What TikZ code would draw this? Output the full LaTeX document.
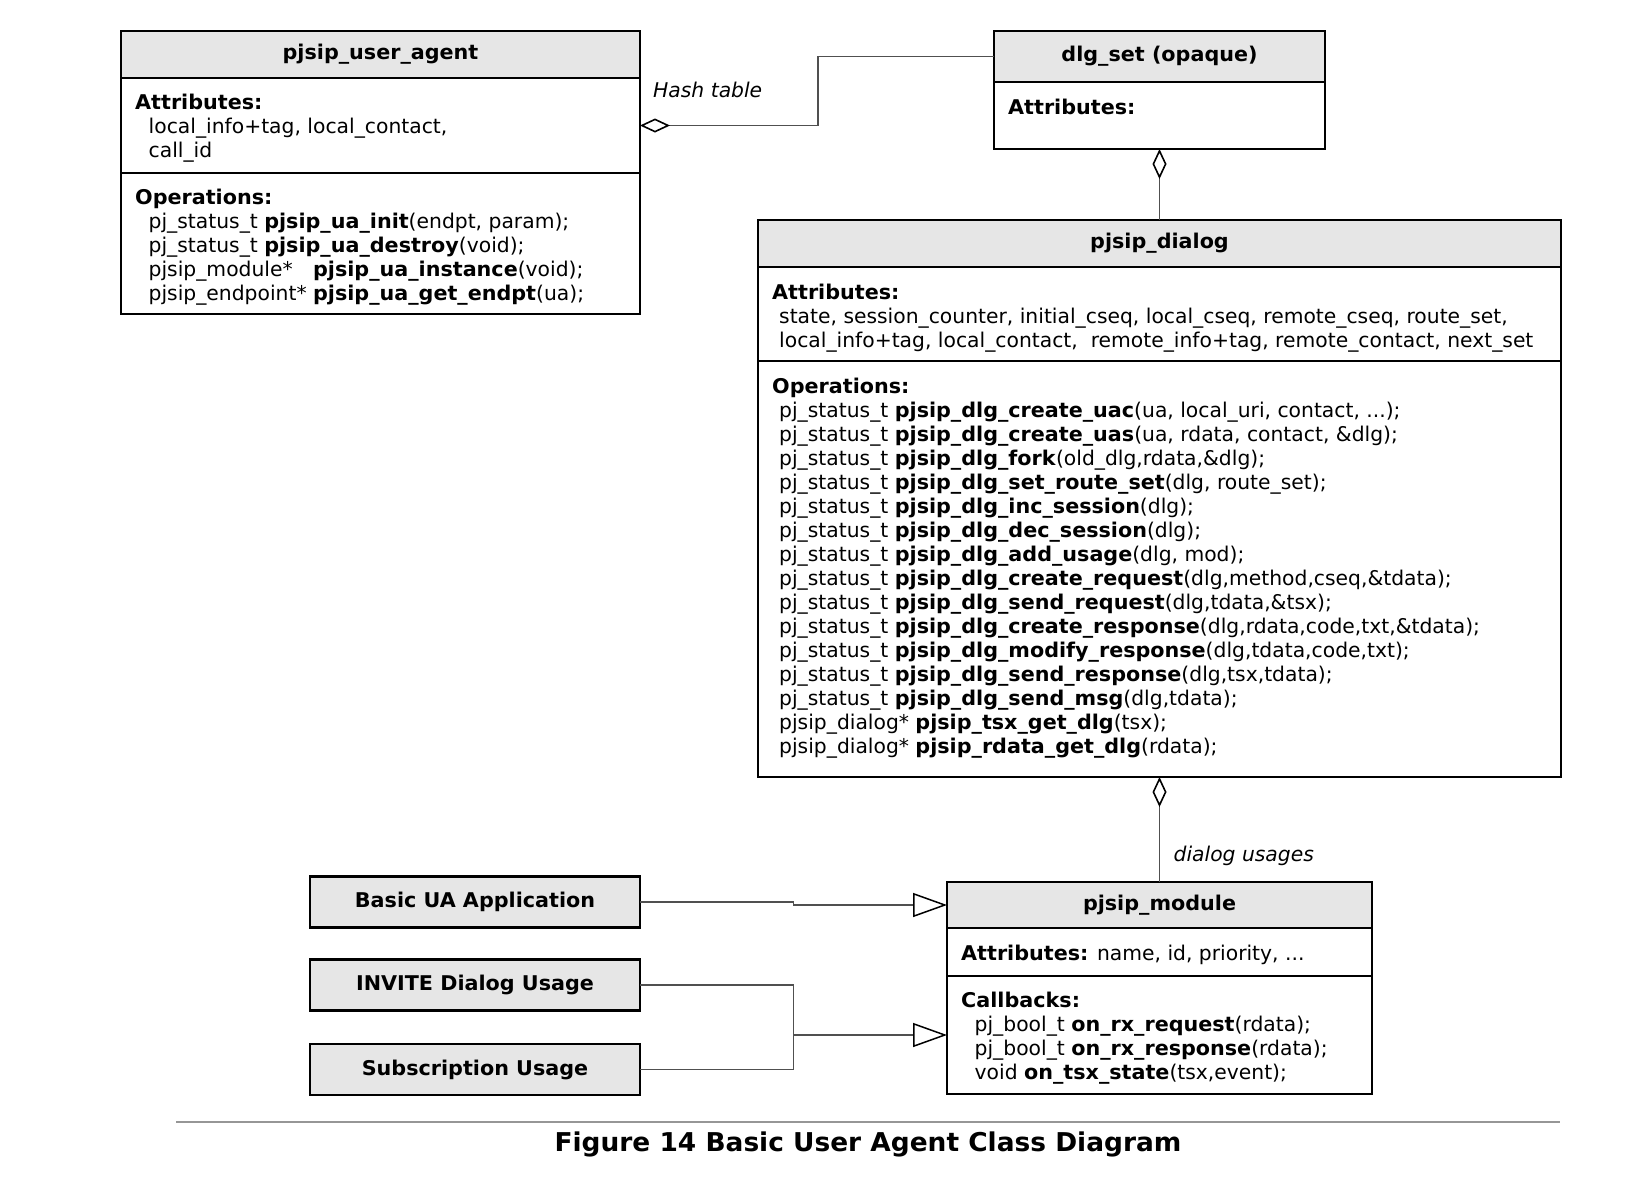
\documentclass[tikz,border=0pt]{standalone}
\usepackage{fontspec}
\setmainfont[BoldFeatures={FakeStretch=1.02}]{DejaVu Sans}
\usetikzlibrary{arrows.meta}
\definecolor{hdrgray}{RGB}{230,230,230}
\definecolor{linegray}{RGB}{80,80,80}
\definecolor{rulegray}{RGB}{150,150,150}
\newcommand{\bodyfont}{\fontsize{20.3}{24}\selectfont}
\newcommand{\ind}{\hspace*{13.5pt}}
\newcommand{\indd}{\hspace*{7pt}}
\tikzset{
  comp/.style={draw=black, line width=2.2pt, anchor=north west, inner sep=0pt, outer sep=0pt, fill=white},
  hdr/.style={comp, fill=hdrgray, font=\bodyfont\bfseries},
  txt/.style={anchor=north west, inner sep=0pt, align=left, font=\bodyfont},
  lbl/.style={inner sep=0pt, font=\bodyfont\itshape},
  conn/.style={draw=linegray, line width=1.3pt},
  agg/.style={conn, {Diamond[open, length=30pt, width=14pt, line width=1.6pt, color=black]}-},
  gen/.style={conn, -{Triangle[open, length=34pt, width=24pt, line width=1.5pt, color=black]}}
}
\begin{document}
\begin{tikzpicture}[x=1pt,y=-1pt]
\useasboundingbox (0,0) rectangle (1642,1184);
% pjsip_user_agent
\node[hdr, minimum width=519pt, minimum height=47pt] (uah) at (121,31) {pjsip\_user\_agent};
\node[comp, minimum width=519pt, minimum height=95pt] (uaa) at (121,78) {};
\node[comp, minimum width=519pt, minimum height=141pt] (uao) at (121,173) {};
\node[txt] (uaat) at (135,94) {\textbf{Attributes:}\\ \ind local\_info+tag, local\_contact,\\ \ind call\_id};
\node[txt] (uaot) at (135,189) {\textbf{Operations:}\\
\ind pj\_status\_t \textbf{pjsip\_ua\_init}(endpt, param);\\
\ind pj\_status\_t \textbf{pjsip\_ua\_destroy}(void);\\
\ind \rlap{pjsip\_module*}\phantom{pjsip\_endpoint* }\textbf{pjsip\_ua\_instance}(void);\\
\ind pjsip\_endpoint* \textbf{pjsip\_ua\_get\_endpt}(ua);};
% dlg_set
\node[hdr, minimum width=331pt, minimum height=51pt] (dsh) at (994,31) {dlg\_set (opaque)};
\node[comp, minimum width=331pt, minimum height=67pt] (dsa) at (994,82) {};
\node[txt] (dsat) at (1008,99) {\textbf{Attributes:}};
% pjsip_dialog
\node[hdr, minimum width=803pt, minimum height=47pt] (dh) at (758,220) {pjsip\_dialog};
\node[comp, minimum width=803pt, minimum height=94pt] (da) at (758,267) {};
\node[comp, minimum width=803pt, minimum height=416pt] (dop) at (758,361) {};
\node[txt] (dat) at (772,284) {\textbf{Attributes:}\\
\indd state, session\_counter, initial\_cseq, local\_cseq, remote\_cseq, route\_set,\\
\indd local\_info+tag, local\_contact,\ \ remote\_info+tag, remote\_contact, next\_set};
\node[txt] (dot) at (772,377.5) {\textbf{Operations:}\\
\indd pj\_status\_t \textbf{pjsip\_dlg\_create\_uac}(ua, local\_uri, contact, ...);\\
\indd pj\_status\_t \textbf{pjsip\_dlg\_create\_uas}(ua, rdata, contact, \&dlg);\\
\indd pj\_status\_t \textbf{pjsip\_dlg\_fork}(old\_dlg,rdata,\&dlg);\\
\indd pj\_status\_t \textbf{pjsip\_dlg\_set\_route\_set}(dlg, route\_set);\\
\indd pj\_status\_t \textbf{pjsip\_dlg\_inc\_session}(dlg);\\
\indd pj\_status\_t \textbf{pjsip\_dlg\_dec\_session}(dlg);\\
\indd pj\_status\_t \textbf{pjsip\_dlg\_add\_usage}(dlg, mod);\\
\indd pj\_status\_t \textbf{pjsip\_dlg\_create\_request}(dlg,method,cseq,\&tdata);\\
\indd pj\_status\_t \textbf{pjsip\_dlg\_send\_request}(dlg,tdata,\&tsx);\\
\indd pj\_status\_t \textbf{pjsip\_dlg\_create\_response}(dlg,rdata,code,txt,\&tdata);\\
\indd pj\_status\_t \textbf{pjsip\_dlg\_modify\_response}(dlg,tdata,code,txt);\\
\indd pj\_status\_t \textbf{pjsip\_dlg\_send\_response}(dlg,tsx,tdata);\\
\indd pj\_status\_t \textbf{pjsip\_dlg\_send\_msg}(dlg,tdata);\\
\indd pjsip\_dialog* \textbf{pjsip\_tsx\_get\_dlg}(tsx);\\
\indd pjsip\_dialog* \textbf{pjsip\_rdata\_get\_dlg}(rdata);};
% pjsip_module
\node[hdr, minimum width=425pt, minimum height=46pt] (mh) at (947,882) {pjsip\_module};
\node[comp, minimum width=425pt, minimum height=48pt] (ma) at (947,928) {};
\node[comp, minimum width=425pt, minimum height=118pt] (mc) at (947,976) {};
\node[txt] (mat) at (961,945) {\textbf{Attributes:} name, id, priority, ...};
\node[txt] (mct) at (961,992) {\textbf{Callbacks:}\\
\ind pj\_bool\_t \textbf{on\_rx\_request}(rdata);\\
\ind pj\_bool\_t \textbf{on\_rx\_response}(rdata);\\
\ind void \textbf{on\_tsx\_state}(tsx,event);};
% left boxes
\node[hdr, minimum width=330pt, minimum height=51pt] (bua) at (310,876.5) {Basic UA Application};
\node[hdr, minimum width=330pt, minimum height=51pt] (inv) at (310,959.5) {INVITE Dialog Usage};
\node[hdr, minimum width=330pt, minimum height=51pt] (sub) at (310,1044) {Subscription Usage};
% connectors
\coordinate (hk) at (818,90);
\draw[agg] (uaa.east) -| (hk) |- (dsh.west);
\node[lbl, anchor=west] (hl) at (653,90) {Hash table};
\draw[agg] (dsa.south) -- (dh.north);
\draw[agg] (dop.south) -- (mh.north) node[lbl, pos=0.75, anchor=west, xshift=13.5pt] (du) {dialog usages};
\coordinate (j1) at (793.5,903);
\draw[gen] (bua.east) -| (j1) |- (mh.west);
\coordinate (j2) at (793.5,1035);
\draw[conn] (inv.east) -| (j2) |- (sub.east);
\draw[gen] (j2) -- (mc.west);
% caption
\draw[rulegray, line width=1.5pt] (176,1122) -- (1560,1122);
\node[inner sep=0pt, font=\fontsize{25.9}{30}\selectfont\bfseries] (cap) at (868,1144) {Figure 14 Basic User Agent Class Diagram};
\end{tikzpicture}
\end{document}
